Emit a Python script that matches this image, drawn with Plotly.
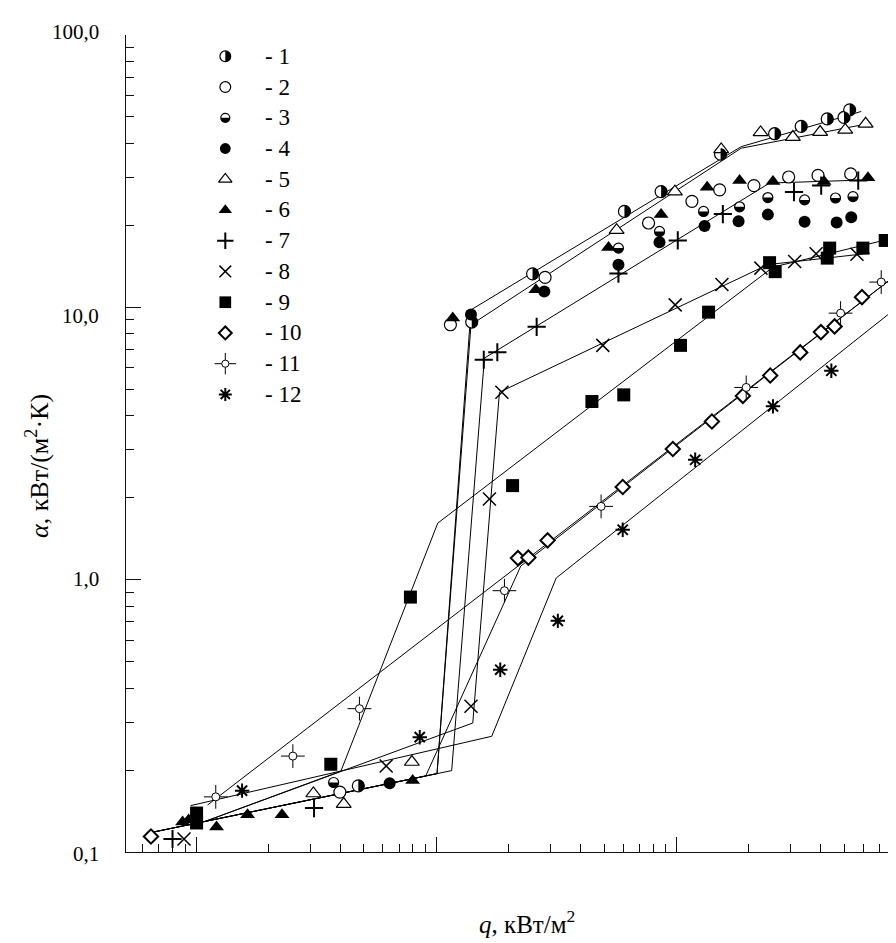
import numpy as np
import plotly.graph_objects as go

FONT = "Liberation Serif, Times New Roman, serif"

# ---------------- data: q (kW/m2), alpha (kW/(m2*K)) ----------------
q1 = [4.74, 14.06, 25.2, 60.8, 86.4, 152.8, 256.6, 331, 425, 499, 527]
a1 = [0.175, 8.83, 13.27, 22.5, 26.6, 36.5, 43.4, 46.2, 49.2, 49.8, 53.1]
q2 = [3.97, 11.46, 28.4, 76.6, 116.1, 151.4, 210.4, 293.5, 389, 532]
a2 = [0.166, 8.63, 12.88, 20.4, 24.5, 27.0, 28.0, 30.1, 30.5, 30.9]
q3 = [3.74, 57.4, 85.1, 129.8, 183.4, 240.5, 342, 460, 544]
a3 = [0.180, 16.5, 19.0, 22.5, 23.4, 25.3, 24.8, 25.2, 25.5]
q4 = [6.40, 13.96, 28.2, 57.4, 85.1, 131.1, 181.6, 240.5, 342, 465, 535]
a4 = [0.179, 9.42, 11.44, 14.32, 17.35, 19.9, 20.7, 21.9, 20.6, 20.5, 21.4]
q5 = [3.08, 4.12, 7.92, 56.4, 98.6, 153.7, 224.3, 305.7, 397, 505, 614]
a5 = [0.164, 0.150, 0.214, 19.2, 26.6, 38.0, 43.9, 42.2, 44.0, 44.8, 47.2]
q6 = [0.879, 0.931, 1.217, 1.639, 2.28, 7.98, 11.72, 26.0, 52.2, 86.4, 134.4, 183.4, 252.6, 412, 628]
a6 = [0.129, 0.131, 0.1235, 0.137, 0.137, 0.183, 9.13, 11.6, 16.6, 21.9, 27.6, 29.2, 29.0, 29.0, 29.9]
q7 = [0.798, 3.10, 15.78, 17.97, 26.2, 57.4, 101.4, 156.2, 309, 401, 572]
a7 = [0.1116, 0.145, 6.42, 6.84, 8.48, 13.3, 17.6, 22.0, 26.5, 28.0, 29.2]
q8 = [0.891, 6.19, 13.96, 16.66, 18.78, 49.4, 98.9, 154.8, 225, 311, 382, 565]
a8 = [0.1116, 0.207, 0.343, 1.977, 4.88, 7.25, 10.21, 12.13, 13.93, 14.74, 15.72, 15.67]
q9 = [1.005, 1.005, 3.64, 7.81, 20.8, 44.5, 60.4, 104.1, 136.2, 244.5, 258, 425, 435, 598, 741]
a9 = [0.139, 0.1278, 0.210, 0.863, 2.215, 4.51, 4.77, 7.25, 9.60, 14.59, 13.52, 15.16, 16.5, 16.5, 17.6]
q10 = [0.649, 21.9, 24.2, 29.1, 59.8, 96.7, 140.6, 189.3, 246, 328, 400, 456, 593]
a10 = [0.114, 1.20, 1.205, 1.394, 2.19, 3.02, 3.81, 4.73, 5.62, 6.83, 8.11, 8.51, 10.9]
q11 = [1.208, 2.53, 4.79, 19.24, 48.6, 195.4, 483, 713]
a11 = [0.1594, 0.225, 0.336, 0.911, 1.858, 5.08, 9.52, 12.38]
q12 = [1.555, 8.54, 18.48, 32.1, 59.8, 119.8, 252.6, 442, 816]
a12 = [0.168, 0.264, 0.467, 0.706, 1.525, 2.755, 4.33, 5.85, 8.63]

# ---------------- fitted (approximating) lines ----------------
fq1 = [0.665, 10.08, 13.96, 186.2, 589]
fa1 = [0.1184, 0.194, 9.79, 38.9, 52.4]
fq5 = [0.665, 10.08, 13.96, 186.2, 648]
fa5 = [0.1184, 0.194, 8.63, 38.4, 47.5]
fq7 = [0.665, 11.6, 15.88, 244.5, 646]
fa7 = [0.1184, 0.199, 6.51, 28.6, 29.4]
fq8 = [1.095, 4.01, 14.2, 18.34, 240.5, 640]
fa8 = [0.1297, 0.198, 0.2976, 4.88, 14.35, 15.81]
fq9 = [1.095, 4.01, 10.15, 252.6, 798]
fa9 = [0.1297, 0.198, 1.613, 14.05, 17.95]
fq10 = [0.665, 9.04, 22.5, 822]
fa10 = [0.1184, 0.190, 1.122, 13.13]
fq11 = [1.117, 822]
fa11 = [0.1488, 13.13]
fq12 = [0.949, 17.03, 31.6, 853]
fa12 = [0.148, 0.266, 1.014, 10.19]

legend_labels = ["- 1", "- 2", "- 3", "- 4", "- 5", "- 6", "- 7", "- 8", "- 9", "- 10", "- 11", "- 12"]
ytick_vals = [0.1, 1, 10, 100]
ytick_text = ["0,1", "1,0", "10,0", "100,0"]

# ---------------- styles ----------------
BLK = "black"
WHT = "white"
styles = [
    dict(symbol="circle", size=12, color=WHT, lw=1.2, half="right"),
    dict(symbol="circle", size=12, color=WHT, lw=1.2),
    dict(symbol="circle", size=10, color=WHT, lw=1.2, half="lower"),
    dict(symbol="circle", size=12, color=BLK, lw=0),
    dict(symbol="triangle-up", size=13, color=WHT, lw=1.2),
    dict(symbol="triangle-up", size=13, color=BLK, lw=0),
    dict(symbol="cross-thin-open", size=13, color=BLK, lw=2),
    dict(symbol="x-thin-open", size=13, color=BLK, lw=1.5),
    dict(symbol="square", size=13, color=BLK, lw=0),
    dict(symbol="diamond", size=11, color=WHT, lw=2),
    dict(symbol="crosshair", size=17, color=WHT, lw=1),
    dict(symbol="asterisk-open", size=12, color=BLK, lw=2),
]
data = [(q1, a1), (q2, a2), (q3, a3), (q4, a4), (q5, a5), (q6, a6),
        (q7, a7), (q8, a8), (q9, a9), (q10, a10), (q11, a11), (q12, a12)]
lines = [(fq1, fa1), (fq5, fa5), (fq7, fa7), (fq8, fa8), (fq9, fa9),
         (fq10, fa10), (fq11, fa11), (fq12, fa12)]

fig = go.Figure()

for fq, fa in lines:
    fig.add_trace(go.Scatter(x=fq, y=fa, mode="lines", line=dict(color=BLK, width=1),
                             showlegend=False, hoverinfo="skip"))


def add_markers(x, y, st, scale=1.0, xaxis="x", yaxis="y"):
    if st["symbol"] == "crosshair":
        fig.add_trace(go.Scatter(x=x, y=y, mode="markers", xaxis=xaxis, yaxis=yaxis,
                                 marker=dict(symbol="cross-thin-open", size=st["size"] * scale,
                                             color=BLK, line=dict(color=BLK, width=1)),
                                 showlegend=False, hoverinfo="skip", cliponaxis=False))
        fig.add_trace(go.Scatter(x=x, y=y, mode="markers", xaxis=xaxis, yaxis=yaxis,
                                 marker=dict(symbol="circle", size=8 * scale, color=WHT,
                                             line=dict(color=BLK, width=1)),
                                 showlegend=False, hoverinfo="skip", cliponaxis=False))
        return
    fig.add_trace(go.Scatter(x=x, y=y, mode="markers", xaxis=xaxis, yaxis=yaxis,
                             marker=dict(symbol=st["symbol"], size=st["size"] * scale,
                                         color=st["color"] if st["lw"] == 0 or st["color"] == WHT else BLK,
                                         line=dict(color=BLK, width=st["lw"])),
                             showlegend=False, hoverinfo="skip", cliponaxis=False))


def half_path(kind, r):
    k = 0.5523 * r
    if kind == "right":
        return (f"M0,{r} C{k:.2f},{r} {r},{k:.2f} {r},0 "
                f"C{r},{-k:.2f} {k:.2f},{-r} 0,{-r} Z")
    return (f"M{-r},0 C{-r},{-k:.2f} {-k:.2f},{-r} 0,{-r} "
            f"C{k:.2f},{-r} {r},{-k:.2f} {r},0 Z")


shapes = []
for (x, y), st in zip(data, styles):
    add_markers(x, y, st)
    if "half" in st:
        r = st["size"] / 2.0
        for xv, yv in zip(x, y):
            shapes.append(dict(type="path", xref="x", yref="y", xsizemode="pixel",
                               ysizemode="pixel", xanchor=xv, yanchor=yv,
                               path=half_path(st["half"], r), fillcolor=BLK,
                               line=dict(width=0), layer="above"))

# ---------------- legend (manual, placed in plot-area fractions) ----------------
L, T, B, W, H = 118, 27, 99, 896, 943
pw, ph = W - L, H - T - B
leg_x = (217.3 - L) / pw
txt_x = (255.0 - L) / pw
annotations = []
for i, (lab, st) in enumerate(zip(legend_labels, styles)):
    py = 48.3 + 30.74 * i
    fy = (H - B - py) / ph
    add_markers([leg_x], [fy], st, scale=0.9, xaxis="x2", yaxis="y2")
    if "half" in st:
        r = st["size"] * 0.9 / 2.0
        shapes.append(dict(type="path", xref="paper", yref="paper", xsizemode="pixel",
                           ysizemode="pixel", xanchor=leg_x, yanchor=fy,
                           path=half_path(st["half"], r), fillcolor=BLK,
                           line=dict(width=0), layer="above"))
    annotations.append(dict(x=txt_x, y=fy, xref="paper", yref="paper", text=lab,
                            showarrow=False, xanchor="left", yanchor="middle",
                            font=dict(family=FONT, size=23, color=BLK)))

# y tick labels
yshifts = [-2, 1, -9, 3]
for v, t, s in zip(ytick_vals, ytick_text, yshifts):
    annotations.append(dict(x=(93 - L) / pw, y=float(np.log10(v)), xref="paper", yref="y",
                            text=t, showarrow=False, xanchor="right", yanchor="middle",
                            yshift=s, font=dict(family=FONT, size=21, color=BLK)))

# axis titles
annotations.append(dict(x=(519 - L) / pw, y=(H - B - 914) / ph, xref="paper", yref="paper",
                        text="<i>q</i>, кВт/м<sup>2</sup>", showarrow=False,
                        xanchor="center", yanchor="middle",
                        font=dict(family=FONT, size=25, color=BLK)))
annotations.append(dict(x=(30 - L) / pw, y=(H - B - 458) / ph, xref="paper", yref="paper",
                        text="<i>α</i>, кВт/(м<sup>2</sup>·К)", showarrow=False, textangle=-90,
                        xanchor="center", yanchor="middle",
                        font=dict(family=FONT, size=26, color=BLK)))

x_major = [1, 10, 100]
x_minor = [m * 10.0 ** e for e in range(-1, 3) for m in range(2, 10)]
y_minor = [m * 10.0 ** e for e in range(-1, 2) for m in range(2, 10)]

axis_common = dict(type="log", showgrid=False, zeroline=False, showline=True,
                   linecolor="#111", linewidth=1.3, ticks="inside", ticklen=15,
                   tickwidth=1, tickcolor="#111", showticklabels=False)

fig.update_layout(
    width=W, height=H,
    margin=dict(l=L, r=0, t=T, b=B),
    paper_bgcolor="white", plot_bgcolor="white",
    showlegend=False,
    xaxis=dict(range=[-0.2917, 2.948], tickvals=x_major,
               minor=dict(tickvals=x_minor, ticks="inside", ticklen=8, tickwidth=1,
                          tickcolor="#111", showgrid=False),
               **axis_common),
    yaxis=dict(range=[-1, 2], tickvals=ytick_vals,
               minor=dict(tickvals=y_minor, ticks="inside", ticklen=8, tickwidth=1,
                          tickcolor="#111", showgrid=False),
               **axis_common),
    xaxis2=dict(overlaying="x", anchor="y2", range=[0, 1], visible=False),
    yaxis2=dict(overlaying="y", anchor="x2", range=[0, 1], visible=False),
    shapes=shapes,
    annotations=annotations,
    font=dict(family=FONT, color=BLK),
)

fig.write_html("out.html")
